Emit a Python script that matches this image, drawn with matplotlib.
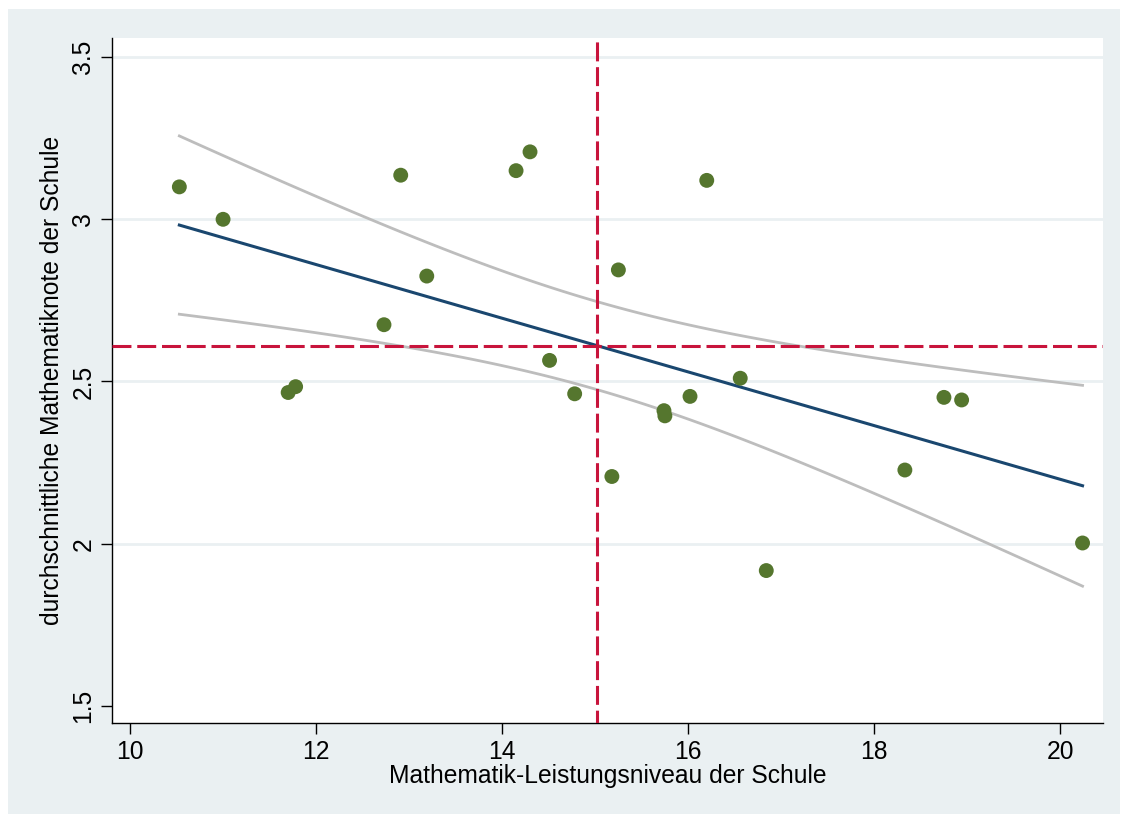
import numpy as np
import matplotlib.pyplot as plt
from matplotlib.patches import Rectangle

# school-level math performance (x) and mean math grade (y)
leistung = [10.53, 11.00, 11.70, 11.78, 12.73, 12.91, 13.19, 14.15, 14.30, 14.51,
            14.78, 15.18, 15.25, 15.74, 15.75, 16.02, 16.20, 16.56, 16.84, 18.33,
            18.75, 18.94, 20.24]
note = [3.10, 3.00, 2.466, 2.484, 2.675, 3.136, 2.825, 3.150, 3.208, 2.565,
        2.462, 2.207, 2.844, 2.410, 2.394, 2.454, 3.120, 2.510, 1.917, 2.227,
        2.451, 2.443, 2.002]
x_ticks = [10, 12, 14, 16, 18, 20]
y_ticks = [1.5, 2, 2.5, 3, 3.5]
y_ticklabels = ['1.5', '2', '2.5', '3', '3.5']

plt.rcParams['font.family'] = ['Liberation Sans', 'DejaVu Sans']


def main():
    x = np.array(leistung)
    y = np.array(note)
    n = len(x)

    # linear fit with 95% CI of the mean prediction
    b, a = np.polyfit(x, y, 1)
    resid = y - (a + b * x)
    s = np.sqrt(np.sum(resid ** 2) / (n - 2))
    t_crit = 2.080  # t(0.975, df=21)
    xs = np.linspace(x.min(), x.max(), 100)
    fit = a + b * xs
    se = s * np.sqrt(1.0 / n + (xs - x.mean()) ** 2 / np.sum((x - x.mean()) ** 2))

    fig = plt.figure(figsize=(11.27, 8.18), dpi=100)
    fig.patch.set_facecolor('white')
    fig.patches.append(Rectangle((8 / 1127, 4 / 818), 1112 / 1127, 805 / 818,
                                 transform=fig.transFigure, facecolor='#eaf0f2',
                                 edgecolor='none', zorder=-10))
    ax = fig.add_axes([112 / 1127, 95 / 818, 991 / 1127, 685 / 818])
    ax.set_facecolor('white')

    for yt in [2, 2.5, 3, 3.5]:
        ax.axhline(yt, color='#eaf0f2', lw=2, zorder=1)

    ax.plot(xs, fit + t_crit * se, color='#bdbdbd', lw=2, zorder=2)
    ax.plot(xs, fit - t_crit * se, color='#bdbdbd', lw=2, zorder=2)
    ax.plot(xs, fit, color='#1a476f', lw=2.2, zorder=3)
    ax.scatter(x, y, s=115, color='#55762e', edgecolors='none', zorder=4)

    red = '#c8143c'
    dash = (0, (6.2, 1.9))
    ax.axvline(x.mean(), color=red, lw=2.2, ls=(2, (6.2, 1.9)), zorder=5)
    ax.axhline(y.mean(), color=red, lw=2.2, ls=dash, zorder=5)

    ax.set_xlim(9.806, 20.46)
    ax.set_ylim(1.447, 3.559)
    ax.set_xticks(x_ticks)
    ax.set_yticks(y_ticks)
    ax.set_yticklabels(y_ticklabels, rotation=90, va='center')
    ax.tick_params(direction='out', length=8, width=1, labelsize=17.7, colors='black')
    ax.tick_params(axis='y', pad=4)
    ax.tick_params(axis='x', pad=4)
    for side in ['top', 'right']:
        ax.spines[side].set_visible(False)
    for side in ['left', 'bottom']:
        ax.spines[side].set_linewidth(1)

    ax.set_xlabel('Mathematik-Leistungsniveau der Schule', fontsize=17.7, labelpad=0)
    ax.set_ylabel('durchschnittliche Mathematiknote der Schule', fontsize=17.7, labelpad=5)

    fig.savefig('out.png', dpi=100)


if __name__ == "__main__":
    main()
